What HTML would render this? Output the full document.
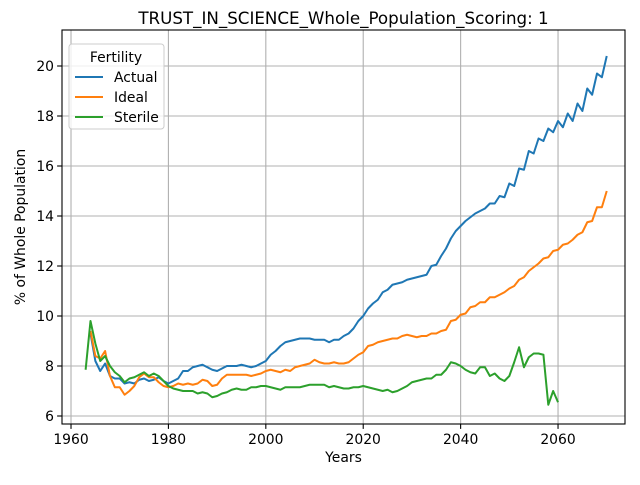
<!DOCTYPE html>
<html><head><meta charset="utf-8"><style>
body{margin:0;background:#fff;}
svg text{font-family:"DejaVu Sans","Liberation Sans",sans-serif;}
</style></head><body>
<svg id="chart" width="640" height="480" xmlns="http://www.w3.org/2000/svg">
<rect width="640" height="480" fill="#fff"/>
<text x="343.5" y="24" font-size="16.7" text-anchor="middle">TRUST_IN_SCIENCE_Whole_Population_Scoring: 1</text>
<g id="grid"></g><g id="series"></g><g id="axes"></g>
<text x="343.5" y="462" font-size="13.9" text-anchor="middle">Years</text>
<text transform="translate(25,227) rotate(-90)" font-size="13.9" text-anchor="middle">% of Whole Population</text>
<g>
<rect x="69" y="44" width="95" height="85" rx="3" fill="#fff" fill-opacity="0.8" stroke="#ccc"/>
<text x="116" y="62" font-size="13.9" text-anchor="middle">Fertility</text>
<g><line x1="75" y1="77" x2="103" y2="77" stroke="#1f77b4" stroke-width="2"/><text x="114" y="82" font-size="13.9">Actual</text></g>
<g><line x1="75" y1="97" x2="103" y2="97" stroke="#ff7f0e" stroke-width="2"/><text x="114" y="102" font-size="13.9">Ideal</text></g>
<g><line x1="75" y1="117" x2="103" y2="117" stroke="#2ca02c" stroke-width="2"/><text x="114" y="122" font-size="13.9">Sterile</text></g>
</g>
</svg>
<script>
const actualStart = 1964;
const actualValues = [9.3,8.2,7.8,8.1,7.6,7.5,7.5,7.3,7.35,7.3,7.45,7.5,7.4,7.45,7.55,7.4,7.3,7.4,7.5,7.8,7.8,7.95,8.0,8.05,7.95,7.85,7.8,7.9,8.0,8.0,8.0,8.05,8.0,7.95,8.0,8.1,8.2,8.45,8.6,8.8,8.95,9.0,9.05,9.1,9.1,9.1,9.05,9.05,9.05,8.95,9.05,9.05,9.2,9.3,9.5,9.8,10.0,10.3,10.5,10.65,10.95,11.05,11.25,11.3,11.35,11.45,11.5,11.55,11.6,11.65,12.0,12.05,12.4,12.7,13.1,13.4,13.6,13.8,13.95,14.1,14.2,14.3,14.5,14.5,14.8,14.75,15.3,15.2,15.9,15.85,16.6,16.5,17.1,17.0,17.5,17.35,17.8,17.55,18.1,17.8,18.5,18.2,19.1,18.85,19.7,19.55,20.4];
const idealStart = 1964;
const idealValues = [9.4,8.4,8.3,8.6,7.6,7.15,7.15,6.85,7.0,7.2,7.55,7.7,7.55,7.55,7.35,7.2,7.15,7.2,7.3,7.25,7.3,7.25,7.3,7.45,7.4,7.2,7.25,7.5,7.65,7.65,7.65,7.65,7.65,7.6,7.65,7.7,7.8,7.85,7.8,7.75,7.85,7.8,7.95,8.0,8.05,8.1,8.25,8.15,8.1,8.1,8.15,8.1,8.1,8.15,8.3,8.45,8.55,8.8,8.85,8.95,9.0,9.05,9.1,9.1,9.2,9.25,9.2,9.15,9.2,9.2,9.3,9.3,9.4,9.45,9.8,9.85,10.05,10.1,10.35,10.4,10.55,10.55,10.75,10.75,10.85,10.95,11.1,11.2,11.45,11.55,11.8,11.95,12.1,12.3,12.35,12.6,12.65,12.85,12.9,13.05,13.25,13.35,13.75,13.8,14.35,14.35,15.0];
const sterileStart = 1963;
const sterileValues = [7.85,9.8,8.9,8.2,8.4,8.0,7.75,7.6,7.35,7.5,7.55,7.65,7.75,7.6,7.7,7.6,7.4,7.2,7.1,7.05,7.0,7.0,7.0,6.9,6.95,6.9,6.75,6.8,6.9,6.95,7.05,7.1,7.05,7.05,7.15,7.15,7.2,7.2,7.15,7.1,7.05,7.15,7.15,7.15,7.15,7.2,7.25,7.25,7.25,7.25,7.15,7.2,7.15,7.1,7.1,7.15,7.15,7.2,7.15,7.1,7.05,7.0,7.05,6.95,7.0,7.1,7.2,7.35,7.4,7.45,7.5,7.5,7.65,7.65,7.85,8.15,8.1,8.0,7.85,7.75,7.7,7.95,7.95,7.6,7.7,7.5,7.4,7.6,8.15,8.75,7.95,8.35,8.5,8.5,8.45,6.45,7.0,6.55];
const xTicks = [1960,1980,2000,2020,2040,2060];
const yTicks = [6,8,10,12,14,16,18,20];

const L=62,R=625,T=30,B=424;
const xMin=1958.15,xMax=2073.75,yMin=5.68,yMax=21.44;
const xs=v=>L+(v-xMin)/(xMax-xMin)*(R-L);
const ys=v=>B-(v-yMin)/(yMax-yMin)*(B-T);
const NS="http://www.w3.org/2000/svg";
function mk(tag,attrs,parent){const e=document.createElementNS(NS,tag);for(const k in attrs)e.setAttribute(k,attrs[k]);parent.appendChild(e);return e;}
const grid=document.getElementById('grid'),axes=document.getElementById('axes'),ser=document.getElementById('series');
xTicks.forEach(t=>{const x=xs(t);
 const g=mk('line',{x1:x,x2:x,y1:T,y2:B,stroke:'#b0b0b0','stroke-width':1.1},grid);
 
 
 mk('line',{x1:x,x2:x,y1:B,y2:B+4.9,stroke:'#000','stroke-width':1.1},axes);
 const tx=mk('text',{x:x,y:B+20,'font-size':13.9,'text-anchor':'middle'},axes);tx.textContent=t;
 
 
});
yTicks.forEach(t=>{const y=ys(t);
 const g=mk('line',{x1:L,x2:R,y1:y,y2:y,stroke:'#b0b0b0','stroke-width':1.1},grid);
 
 
 mk('line',{x1:L-4.9,x2:L,y1:y,y2:y,stroke:'#000','stroke-width':1.1},axes);
 const tx=mk('text',{x:L-8,y:y+5,'font-size':13.9,'text-anchor':'end'},axes);tx.textContent=t;
 
 
});
mk('rect',{x:L,y:T,width:R-L,height:B-T,fill:'none',stroke:'#000','stroke-width':1.1},axes);
function line(start,vals,color,name){
 const pts=vals.map((v,i)=>xs(start+i).toFixed(2)+','+ys(v).toFixed(2)).join(' ');
 const p=mk('polyline',{points:pts,fill:'none',stroke:color,'stroke-width':2,'stroke-linejoin':'round'},ser);
 
 
}
line(actualStart,actualValues,'#1f77b4','actual-line');
line(idealStart,idealValues,'#ff7f0e','ideal-line');
line(sterileStart,sterileValues,'#2ca02c','sterile-line');
</script>
</body></html>
